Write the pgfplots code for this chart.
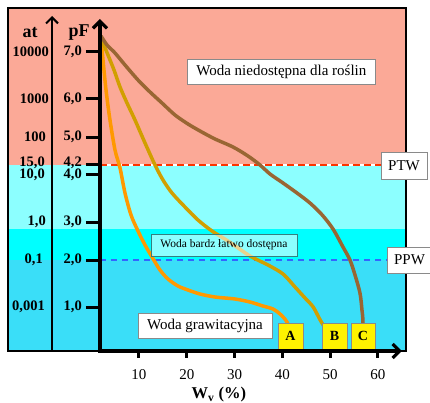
\documentclass[border=0pt]{standalone}
\usepackage{fontspec}
\setmainfont{Liberation Serif}
\usepackage{pgfplots}
\pgfplotsset{compat=1.18}
\usetikzlibrary{arrows.meta}
\definecolor{pinkbg}{HTML}{FBA997}
\definecolor{lcyan}{HTML}{8CFFFF}
\definecolor{mcyan}{HTML}{00FFFF}
\definecolor{dcyan}{HTML}{3ADEF8}
\definecolor{cA}{HTML}{FF9900}
\definecolor{cB}{HTML}{D19F00}
\definecolor{cC}{HTML}{996633}
\definecolor{ptw}{HTML}{FF3300}
\definecolor{ppw}{HTML}{3366FF}
\definecolor{boxgray}{HTML}{8A8A8A}
\begin{document}
\begin{tikzpicture}
\begin{axis}[scale only axis, width=430pt, height=402pt,
  xmin=-19.08, xmax=70.88, ymin=0, ymax=402, hide axis, clip=false, no markers]
% background bands
\addplot[draw=none, fill=pinkbg] coordinates {(-17.41,237) (65.86,237) (65.86,394) (-17.41,394)} -- cycle;
\addplot[draw=none, fill=lcyan] coordinates {(-17.41,173) (65.86,173) (65.86,237) (-17.41,237)} -- cycle;
\addplot[draw=none, fill=mcyan] coordinates {(-17.41,142) (65.86,142) (65.86,173) (-17.41,173)} -- cycle;
\addplot[draw=none, fill=dcyan] coordinates {(-17.41,51) (65.86,51) (65.86,142) (-17.41,142)} -- cycle;
% frame
\addplot[draw=black, line width=1.3pt] coordinates {(-17.41,51) (65.86,51) (65.86,394) (-17.41,394)} -- cycle;
% PTW / PPW lines
\addplot[white, line width=2.4pt] coordinates {(1.84,237) (65.86,237)};
\addplot[ptw, line width=2.4pt, dash pattern=on 7pt off 4pt] coordinates {(1.84,237) (65.86,237)};
\addplot[ppw, line width=1.8pt, dash pattern=on 6pt off 5pt] coordinates {(1.84,142) (62,142)};
% curves
\addplot[cA, line width=3.5pt, smooth] coordinates {
(2.05,364) (2.47,342) (3.10,312) (3.93,282) (4.98,252) (6.03,234) (7.07,209) (8.33,187)
(9.79,171) (11.26,157) (12.72,145) (14.39,132) (16.07,123) (18.16,116) (20.25,112)
(22.76,108) (25.90,105) (30.08,103) (33.22,100) (35.94,96) (38.03,93) (39.50,88)
(40.96,80) (42.01,67) (42.43,51)};
\addplot[cB, line width=3.5pt, smooth] coordinates {
(2.05,364) (3.51,347) (4.77,332) (6.03,315) (7.49,299) (9.16,282) (11.26,259) (13.35,237)
(15.02,222) (16.90,209) (19.62,195) (22.34,182) (25.27,171) (28.62,161) (33.22,146)
(36.99,137) (40.13,128) (42.64,115) (44.73,104) (46.44,95) (47.91,82) (49.54,69)
(50.80,59) (51.63,51)};
\addplot[cC, line width=3.5pt, smooth] coordinates {
(2.05,366) (3.31,357) (4.98,349) (7.07,337) (9.79,322) (12.30,310) (14.81,299) (17.53,287)
(20.25,278) (22.76,271) (25.90,263) (29.67,255) (32.80,246) (35.32,237) (37.41,228)
(40.13,219) (43.05,209) (45.77,199) (48.33,187) (50.59,173) (52.68,155) (54.14,142)
(55.19,127) (56.23,109) (56.65,92) (56.86,80) (56.86,51)};
% text boxes
\draw[boxgray, fill=white, line width=0.8pt] (axis cs:20.04,318) rectangle (axis cs:59.54,343);
\node[font=\fontsize{15}{18}\selectfont] at (axis cs:39.79,330.5) {Woda niedostępna dla roślin};
\draw[boxgray, fill=white, line width=0.8pt] (axis cs:60.63,223) rectangle (axis cs:70.25,250);
\node[font=\fontsize{15}{18}\selectfont] at (axis cs:65.44,236.5) {PTW};
\draw[boxgray, fill=white, line width=0.8pt] (axis cs:61.88,129) rectangle (axis cs:71.5,155);
\node[font=\fontsize{15}{18}\selectfont] at (axis cs:66.6,142) {PPW};
\draw[teal!60!gray, fill=white, fill opacity=0.55, line width=0.8pt] (axis cs:12.51,146) rectangle (axis cs:43.05,168);
\node[font=\fontsize{11.5}{14}\selectfont] at (axis cs:27.78,157) {Woda bardz łatwo dostępna};
\draw[boxgray, fill=white, line width=0.8pt] (axis cs:9.79,64) rectangle (axis cs:37.82,89);
\node[font=\fontsize{15}{18}\selectfont] at (axis cs:23.8,76.5) {Woda grawitacyjna};
\draw[boxgray, fill=yellow, line width=0.8pt] (axis cs:39.08,53) rectangle (axis cs:44.31,79);
\node[font=\fontsize{14}{16}\selectfont\bfseries] at (axis cs:41.7,66) {A};
\draw[boxgray, fill=yellow, line width=0.8pt] (axis cs:48.28,53) rectangle (axis cs:53.51,79);
\node[font=\fontsize{14}{16}\selectfont\bfseries] at (axis cs:50.9,66) {B};
\draw[boxgray, fill=yellow, line width=0.8pt] (axis cs:54.35,53) rectangle (axis cs:59.37,79);
\node[font=\fontsize{14}{16}\selectfont\bfseries] at (axis cs:56.86,66) {C};
% axes
\draw[line width=2pt, -{Straight Barb[length=6pt,width=12pt]}] (axis cs:-8.20,51) -- (axis cs:-8.20,386);
\draw[line width=3.2pt, -{Straight Barb[length=7pt,width=14pt]}] (axis cs:1.84,51) -- (axis cs:1.84,383);
\draw[line width=3.2pt, -{Straight Barb[length=7pt,width=14pt]}] (axis cs:1.5,51) -- (axis cs:65.02,51);
% pF ticks
\draw[line width=3pt] (axis cs:-1.09,350) -- (axis cs:1.84,350);
\draw[line width=3pt] (axis cs:-1.09,303) -- (axis cs:1.84,303);
\draw[line width=3pt] (axis cs:-1.09,265) -- (axis cs:1.84,265);
\draw[line width=3pt] (axis cs:-1.09,238) -- (axis cs:1.84,238);
\draw[line width=3pt] (axis cs:-1.09,228) -- (axis cs:1.84,228);
\draw[line width=3pt] (axis cs:-1.09,180) -- (axis cs:1.84,180);
\draw[line width=3pt] (axis cs:-1.09,142) -- (axis cs:1.84,142);
\draw[line width=3pt] (axis cs:-1.09,95) -- (axis cs:1.84,95);
% x ticks
\draw[line width=3pt] (axis cs:10,51) -- (axis cs:10,44);
\draw[line width=3pt] (axis cs:20,51) -- (axis cs:20,44);
\draw[line width=3pt] (axis cs:30,51) -- (axis cs:30,44);
\draw[line width=3pt] (axis cs:40,51) -- (axis cs:40,44);
\draw[line width=3pt] (axis cs:50,51) -- (axis cs:50,44);
\draw[line width=3pt] (axis cs:60,51) -- (axis cs:60,44);
\begin{scope}[every node/.style={font=\fontsize{15}{18}\selectfont}]
\node at (axis cs:10,27) {10};
\node at (axis cs:20,27) {20};
\node at (axis cs:30,27) {30};
\node at (axis cs:40,27) {40};
\node at (axis cs:50,27) {50};
\node at (axis cs:60,27) {60};
\end{scope}
\node[font=\fontsize{16.5}{18}\selectfont\bfseries, anchor=north, inner sep=0pt] at (axis cs:26.7,15) {W$_{\mathbf{v}}$ (\%)};
% axis titles
\node[font=\fontsize{18}{20}\selectfont\bfseries] at (axis cs:-12.8,369) {at};
\node[font=\fontsize{18}{20}\selectfont\bfseries] at (axis cs:-2.55,369) {pF};
% pF labels
\begin{scope}[every node/.style={font=\fontsize{14.5}{16}\selectfont\bfseries, anchor=east, inner sep=0pt}]
\node at (axis cs:-1.93,350) {7,0};
\node at (axis cs:-1.93,303) {6,0};
\node at (axis cs:-1.93,265) {5,0};
\node at (axis cs:-1.93,239) {4,2};
\node at (axis cs:-1.93,227) {4,0};
\node at (axis cs:-1.93,180) {3,0};
\node at (axis cs:-1.93,142) {2,0};
\node at (axis cs:-1.93,95) {1,0};
% at labels
\node at (axis cs:-8.83,350) {10000};
\node at (axis cs:-8.83,303) {1000};
\node at (axis cs:-9.46,265) {100};
\node at (axis cs:-9.67,239) {15,0};
\node at (axis cs:-9.67,227) {10,0};
\node at (axis cs:-9.46,180) {1,0};
\node at (axis cs:-10.08,142) {0,1};
\node at (axis cs:-9.67,95) {0,001};
\end{scope}
\end{axis}
\pgfresetboundingbox
\useasboundingbox (current axis.south west) rectangle (current axis.north east);
\end{tikzpicture}
\end{document}
